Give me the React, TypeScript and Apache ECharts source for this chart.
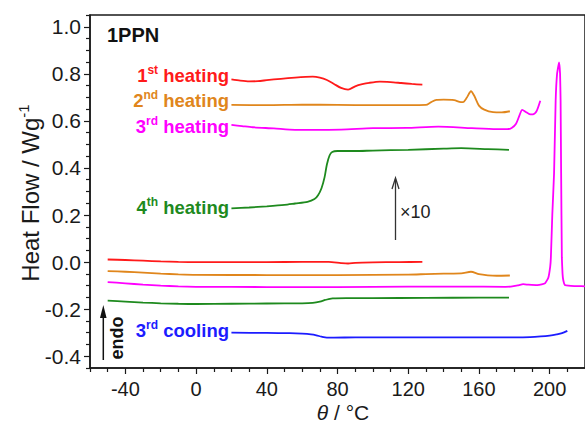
import React, { useEffect, useRef } from "react";
import * as echarts from "echarts";

// ---------- data (x: temperature °C, y: heat flow W/g) ----------
// upper curves (×10, offset), labelled
const RED_UP_T = [20, 25, 30, 35, 40, 48, 56, 62, 66, 70, 74, 78, 82, 86, 90, 94, 98, 104, 110, 116, 122, 128];
const RED_UP_V = [0.776, 0.771, 0.768, 0.769, 0.773, 0.779, 0.784, 0.787, 0.788, 0.784, 0.774, 0.757, 0.740, 0.733, 0.747, 0.756, 0.762, 0.767, 0.765, 0.761, 0.757, 0.754];

const ORA_UP_T = [20, 40, 60, 80, 100, 120, 130, 133, 136, 140, 146, 149, 151, 153, 155.5, 157.5, 160, 163, 168, 173, 177.5];
const ORA_UP_V = [0.668, 0.667, 0.669, 0.668, 0.667, 0.667, 0.668, 0.680, 0.689, 0.690, 0.688, 0.681, 0.680, 0.697, 0.726, 0.705, 0.665, 0.648, 0.637, 0.636, 0.641];

const MAG_UP_T = [20, 26, 32, 44, 56, 64, 82, 100, 119, 137, 156, 170, 176, 178.5, 181, 183, 184.5, 186.5, 188.5, 190.5, 192.5, 194.7];
const MAG_UP_V = [0.583, 0.578, 0.573, 0.568, 0.562, 0.562, 0.563, 0.569, 0.570, 0.576, 0.569, 0.565, 0.565, 0.570, 0.588, 0.625, 0.647, 0.638, 0.629, 0.628, 0.640, 0.686];

const GRN_UP_T = [20, 30, 40, 50, 56, 63, 67, 69, 71, 72.7, 74, 75.5, 77, 80, 90, 100, 120, 140, 150, 165, 177];
const GRN_UP_V = [0.228, 0.232, 0.237, 0.243, 0.249, 0.256, 0.268, 0.284, 0.315, 0.361, 0.415, 0.453, 0.468, 0.472, 0.472, 0.474, 0.477, 0.482, 0.484, 0.480, 0.477];

const BLUE_T = [20, 40, 53, 60, 65, 68, 71, 74, 78, 90, 120, 150, 180, 189, 195, 200, 204, 207, 210];
const BLUE_V = [-0.300, -0.301, -0.302, -0.304, -0.307, -0.311, -0.317, -0.321, -0.321, -0.320, -0.320, -0.320, -0.320, -0.319, -0.316, -0.312, -0.307, -0.302, -0.292];

// lower curves (×1)
const RED_LO_T = [-50, -40, -30, -20, -10, 0, 20, 40, 60, 75, 82, 86, 90, 100, 115, 128];
const RED_LO_V = [0.011, 0.009, 0.006, 0.003, 0.001, 0.0, 0.0, 0.0, 0.001, 0.001, -0.004, -0.006, -0.003, -0.001, 0.0, 0.001];

const ORA_LO_T = [-50, -40, -30, -20, -10, 0, 40, 80, 120, 130, 140, 150, 155.5, 160, 165, 170, 177.5];
const ORA_LO_V = [-0.038, -0.041, -0.045, -0.049, -0.052, -0.054, -0.055, -0.055, -0.053, -0.051, -0.049, -0.048, -0.041, -0.051, -0.056, -0.058, -0.057];

const MAG_LO_T = [-50, -40, -30, -20, -10, 0, 40, 80, 120, 150, 175, 178, 182, 185, 188, 193, 195.5, 197.5, 199.2, 200.3, 200.7, 201.5, 202.5, 203.4, 204.2, 205.3, 205.9, 206.2, 206.5, 206.9, 207.3, 207.7, 208.6, 212, 216, 220];
const MAG_LO_V = [-0.085, -0.090, -0.096, -0.100, -0.103, -0.105, -0.106, -0.106, -0.104, -0.104, -0.105, -0.104, -0.099, -0.094, -0.096, -0.098, -0.095, -0.089, -0.068, -0.020, 0.020, 0.200, 0.377, 0.686, 0.800, 0.849, 0.800, 0.686, 0.377, 0.020, -0.050, -0.076, -0.097, -0.101, -0.102, -0.103];

const GRN_LO_T = [-50, -40, -30, -20, -10, 0, 20, 40, 60, 66, 70, 73, 75, 77.3, 85, 100, 130, 160, 177];
const GRN_LO_V = [-0.164, -0.168, -0.172, -0.175, -0.177, -0.178, -0.177, -0.176, -0.175, -0.173, -0.168, -0.161, -0.157, -0.154, -0.153, -0.153, -0.152, -0.151, -0.151];

// axis ticks
const X_MAJOR = [-40, 0, 40, 80, 120, 160, 200];
const X_MINOR = [-60, -50, -30, -20, -10, 10, 20, 30, 50, 60, 70, 90, 100, 110, 130, 140, 150, 170, 180, 190, 210];
const Y_MAJOR = [-0.4, -0.2, 0.0, 0.2, 0.4, 0.6, 0.8, 1.0];
const Y_MINOR = [-0.45, -0.35, -0.3, -0.25, -0.15, -0.1, -0.05, 0.05, 0.1, 0.15, 0.25, 0.3, 0.35, 0.45, 0.5, 0.55, 0.65, 0.7, 0.75, 0.85, 0.9, 0.95, 1.05];

const RED = "#ff1a1a";
const ORANGE = "#e0861c";
const MAGENTA = "#ff00ff";
const GREEN = "#1e8a1e";
const BLUE = "#1c1cff";

const FONT = "Arial, 'Liberation Sans', sans-serif";

function zip(t: number[], v: number[]) {
  return t.map((x, i) => [x, v[i]]);
}

function line(data: number[][], color: string, smooth = 0.25) {
  return {
    type: "line",
    data,
    showSymbol: false,
    smooth,
    lineStyle: { color, width: 1.8 },
    itemStyle: { color },
  };
}

function label(text: string, sup: string, rest: string, color: string, y: number) {
  return {
    type: "text",
    x: 229,
    y,
    z: 10,
    style: {
      text: `{m|${text}}{s|${sup}}{m| ${rest}}`,
      align: "right",
      verticalAlign: "middle",
      rich: {
        m: { fontSize: 18.5, fontWeight: "bold", fontFamily: FONT, fill: color, lineHeight: 22 },
        s: { fontSize: 12, fontWeight: "bold", fontFamily: FONT, fill: color, lineHeight: 12, verticalAlign: "top" },
      },
    },
  };
}

export default function App() {
  const ref = useRef<HTMLDivElement>(null);
  useEffect(() => {
    if (!ref.current) return;
    const chart = echarts.init(ref.current, null, { renderer: "svg" });
    const axisColor = "#1a1a1a";
    chart.setOption({
      animation: false,
      backgroundColor: "#ffffff",
      grid: {
        left: 90,
        top: 15,
        right: -10,
        bottom: 56,
        show: true,
        borderColor: axisColor,
        borderWidth: 1.5,
        backgroundColor: "transparent",
      },
      xAxis: [
        {
          type: "value",
          min: -60,
          max: 220,
          position: "bottom",
          axisLine: { show: true, onZero: false, lineStyle: { color: axisColor, width: 1.5 } },
          axisTick: { show: true, inside: false, length: 6, customValues: X_MAJOR, lineStyle: { color: axisColor, width: 1.2 } },
          axisLabel: { customValues: X_MAJOR, margin: 11, fontSize: 20, lineHeight: 20, color: "#1a1a1a", fontFamily: FONT },
          splitLine: { show: false },
        },
        {
          type: "value",
          min: -60,
          max: 220,
          position: "bottom",
          axisLine: { show: false, onZero: false },
          axisTick: { show: true, length: 4, customValues: X_MINOR, lineStyle: { color: axisColor, width: 1.2 } },
          axisLabel: { show: false },
          splitLine: { show: false },
        },
      ],
      yAxis: [
        {
          type: "value",
          min: -0.45,
          max: 1.05,
          position: "left",
          axisLine: { show: true, onZero: false, lineStyle: { color: axisColor, width: 1.5 } },
          axisTick: { show: true, length: 6, customValues: Y_MAJOR, lineStyle: { color: axisColor, width: 1.2 } },
          axisLabel: {
            customValues: Y_MAJOR,
            margin: 9,
            fontSize: 21,
            color: "#1a1a1a",
            fontFamily: FONT,
            formatter: (v: number) => v.toFixed(1),
          },
          splitLine: { show: false },
        },
        {
          type: "value",
          min: -0.45,
          max: 1.05,
          position: "left",
          axisLine: { show: false, onZero: false },
          axisTick: { show: true, length: 4, customValues: Y_MINOR, lineStyle: { color: axisColor, width: 1.2 } },
          axisLabel: { show: false },
          splitLine: { show: false },
        },
      ],
      series: [
        line(zip(RED_UP_T, RED_UP_V), RED),
        line(zip(ORA_UP_T, ORA_UP_V), ORANGE),
        line(zip(MAG_UP_T, MAG_UP_V), MAGENTA),
        line(zip(GRN_UP_T, GRN_UP_V), GREEN),
        line(zip(BLUE_T, BLUE_V), BLUE),
        line(zip(RED_LO_T, RED_LO_V), RED),
        line(zip(ORA_LO_T, ORA_LO_V), ORANGE),
        line(zip(MAG_LO_T, MAG_LO_V), MAGENTA, 0.1),
        line(zip(GRN_LO_T, GRN_LO_V), GREEN),
      ],
      graphic: [
        {
          type: "text",
          x: 107,
          y: 35,
          style: { text: "1PPN", fontSize: 20, fontWeight: "bold", fontFamily: FONT, fill: "#111", align: "left", verticalAlign: "middle" },
        },
        label("1", "st", "heating", RED, 75),
        label("2", "nd", "heating", ORANGE, 100),
        label("3", "rd", "heating", MAGENTA, 126),
        label("4", "th", "heating", GREEN, 207),
        label("3", "rd", "cooling", BLUE, 330),
        // ×10 arrow
        {
          type: "line",
          shape: { x1: 395.5, y1: 240, x2: 395.5, y2: 179 },
          style: { stroke: "#333", lineWidth: 1.3 },
        },
        {
          type: "polyline",
          shape: { points: [[392, 189], [395.5, 178], [399, 189]] },
          style: { stroke: "#333", lineWidth: 1.3, fill: null },
        },
        {
          type: "text",
          x: 400,
          y: 212,
          style: { text: "×10", fontSize: 18, fontFamily: FONT, fill: "#222", align: "left", verticalAlign: "middle" },
        },
        // endo arrow
        {
          type: "line",
          shape: { x1: 103.3, y1: 360, x2: 103.3, y2: 314 },
          style: { stroke: "#111", lineWidth: 1.5 },
        },
        {
          type: "polygon",
          shape: { points: [[100, 318], [103.3, 305], [106.6, 318]] },
          style: { fill: "#111" },
        },
        {
          type: "text",
          x: 117,
          y: 338,
          rotation: Math.PI / 2,
          style: { text: "endo", fontSize: 18, fontWeight: "bold", fontFamily: FONT, fill: "#111", align: "center", verticalAlign: "middle" },
        },
        // y axis title
        {
          type: "text",
          x: 30,
          y: 193,
          rotation: Math.PI / 2,
          style: {
            text: "{m|Heat Flow / Wg}{s|-1}",
            align: "center",
            verticalAlign: "middle",
            rich: {
              m: { fontSize: 24, fontFamily: FONT, fill: "#1a1a1a", lineHeight: 28 },
              s: { fontSize: 15, fontFamily: FONT, fill: "#1a1a1a", lineHeight: 15, verticalAlign: "top" },
            },
          },
        },
        // x axis title
        {
          type: "text",
          x: 343,
          y: 412,
          style: {
            text: "{i|θ}{m| / °C}",
            align: "center",
            verticalAlign: "middle",
            rich: {
              i: { fontSize: 21, fontStyle: "italic", fontFamily: FONT, fill: "#1a1a1a", lineHeight: 22 },
              m: { fontSize: 21, fontFamily: FONT, fill: "#1a1a1a", lineHeight: 22 },
            },
          },
        },
      ],
    });
    return () => chart.dispose();
  }, []);
  return (
    <div
      ref={ref}
      style={{ position: "fixed", left: 0, top: 0, width: 585, height: 424, background: "#fff" }}
    />
  );
}
